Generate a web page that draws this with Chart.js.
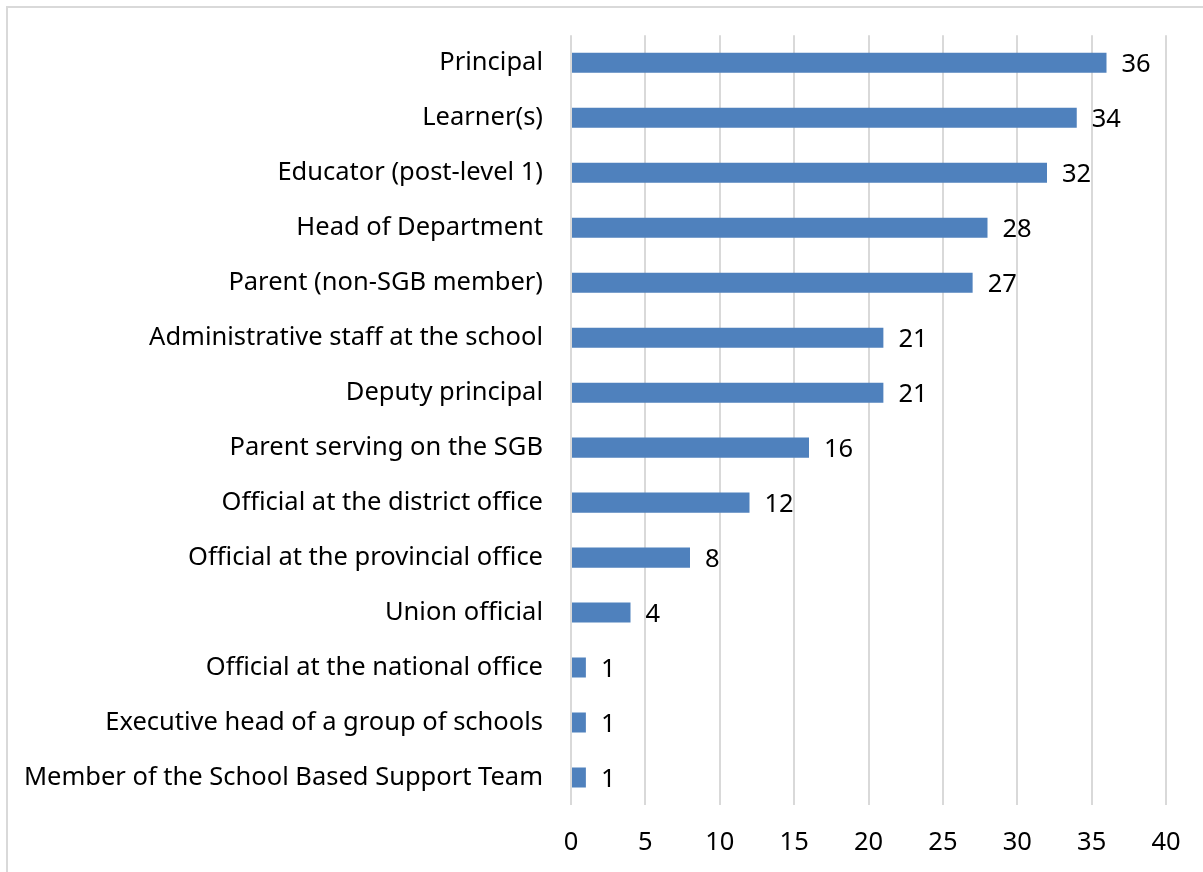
<!DOCTYPE html>
<html>
<head>
<meta charset="utf-8">
<script src="https://cdn.jsdelivr.net/npm/chart.js@4"></script>
<style>
  html, body { margin: 0; padding: 0; background: #fff; }
  #wrap { width: 1203px; height: 872px; position: relative; }
</style>
</head>
<body>
<div id="wrap"><canvas id="chart"></canvas></div>
<script>
const roles = [
  "Principal",
  "Learner(s)",
  "Educator (post-level 1)",
  "Head of Department",
  "Parent (non-SGB member)",
  "Administrative staff at the school",
  "Deputy principal",
  "Parent serving on the SGB",
  "Official at the district office",
  "Official at the provincial office",
  "Union official",
  "Official at the national office",
  "Executive head of a group of schools",
  "Member of the School Based Support Team"
];
const counts = [36, 34, 32, 28, 27, 21, 21, 16, 12, 8, 4, 1, 1, 1];
const xMin = 0, xMax = 40, xStep = 5;

const FONT = "'Noto Sans', sans-serif";
const FONT_SIZE = 25.5;

// light frame around the whole chart (left and top edges are visible)
const framePlugin = {
  id: "frame",
  beforeDraw(chart) {
    const ctx = chart.ctx;
    ctx.save();
    ctx.strokeStyle = "#d9d9d9";
    ctx.lineWidth = 2;
    ctx.beginPath();
    ctx.moveTo(7, chart.height + 5);
    ctx.lineTo(7, 7);
    ctx.lineTo(chart.width + 5, 7);
    ctx.stroke();
    ctx.restore();
  }
};

// value written just past the end of each bar
const valueLabels = {
  id: "valueLabels",
  afterDatasetsDraw(chart) {
    const ctx = chart.ctx;
    const meta = chart.getDatasetMeta(0);
    ctx.save();
    ctx.font = FONT_SIZE + "px " + FONT;
    ctx.fillStyle = "#000";
    ctx.textAlign = "left";
    ctx.textBaseline = "middle";
    meta.data.forEach((bar, i) => {
      ctx.fillText(String(counts[i]), bar.x + 15, bar.y + 2);
    });
    ctx.restore();
  }
};

new Chart(document.getElementById("chart"), {
  type: "bar",
  data: {
    labels: roles,
    datasets: [{
      data: counts,
      backgroundColor: "#4f81bd",
      barPercentage: 0.73,
      categoryPercentage: 0.5
    }]
  },
  options: {
    indexAxis: "y",
    responsive: true,
    maintainAspectRatio: false,
    animation: false,
    layout: { padding: { top: 28, right: 37, bottom: 0, left: 0 } },
    plugins: {
      legend: { display: false },
      tooltip: { enabled: false }
    },
    scales: {
      x: {
        min: xMin,
        max: xMax,
        ticks: {
          stepSize: xStep,
          color: "#000",
          padding: 22,
          font: { family: FONT, size: FONT_SIZE }
        },
        grid: { color: "#d9d9d9", lineWidth: 2, drawTicks: false },
        border: { display: false },
        afterFit(scale) { scale.height = 872 - 805; }
      },
      y: {
        ticks: {
          color: "#000",
          padding: 20,
          font: { family: FONT, size: FONT_SIZE }
        },
        grid: { display: false },
        border: { display: false },
        afterFit(scale) { scale.width = 571; }
      }
    }
  },
  plugins: [framePlugin, valueLabels]
});
</script>
</body>
</html>
